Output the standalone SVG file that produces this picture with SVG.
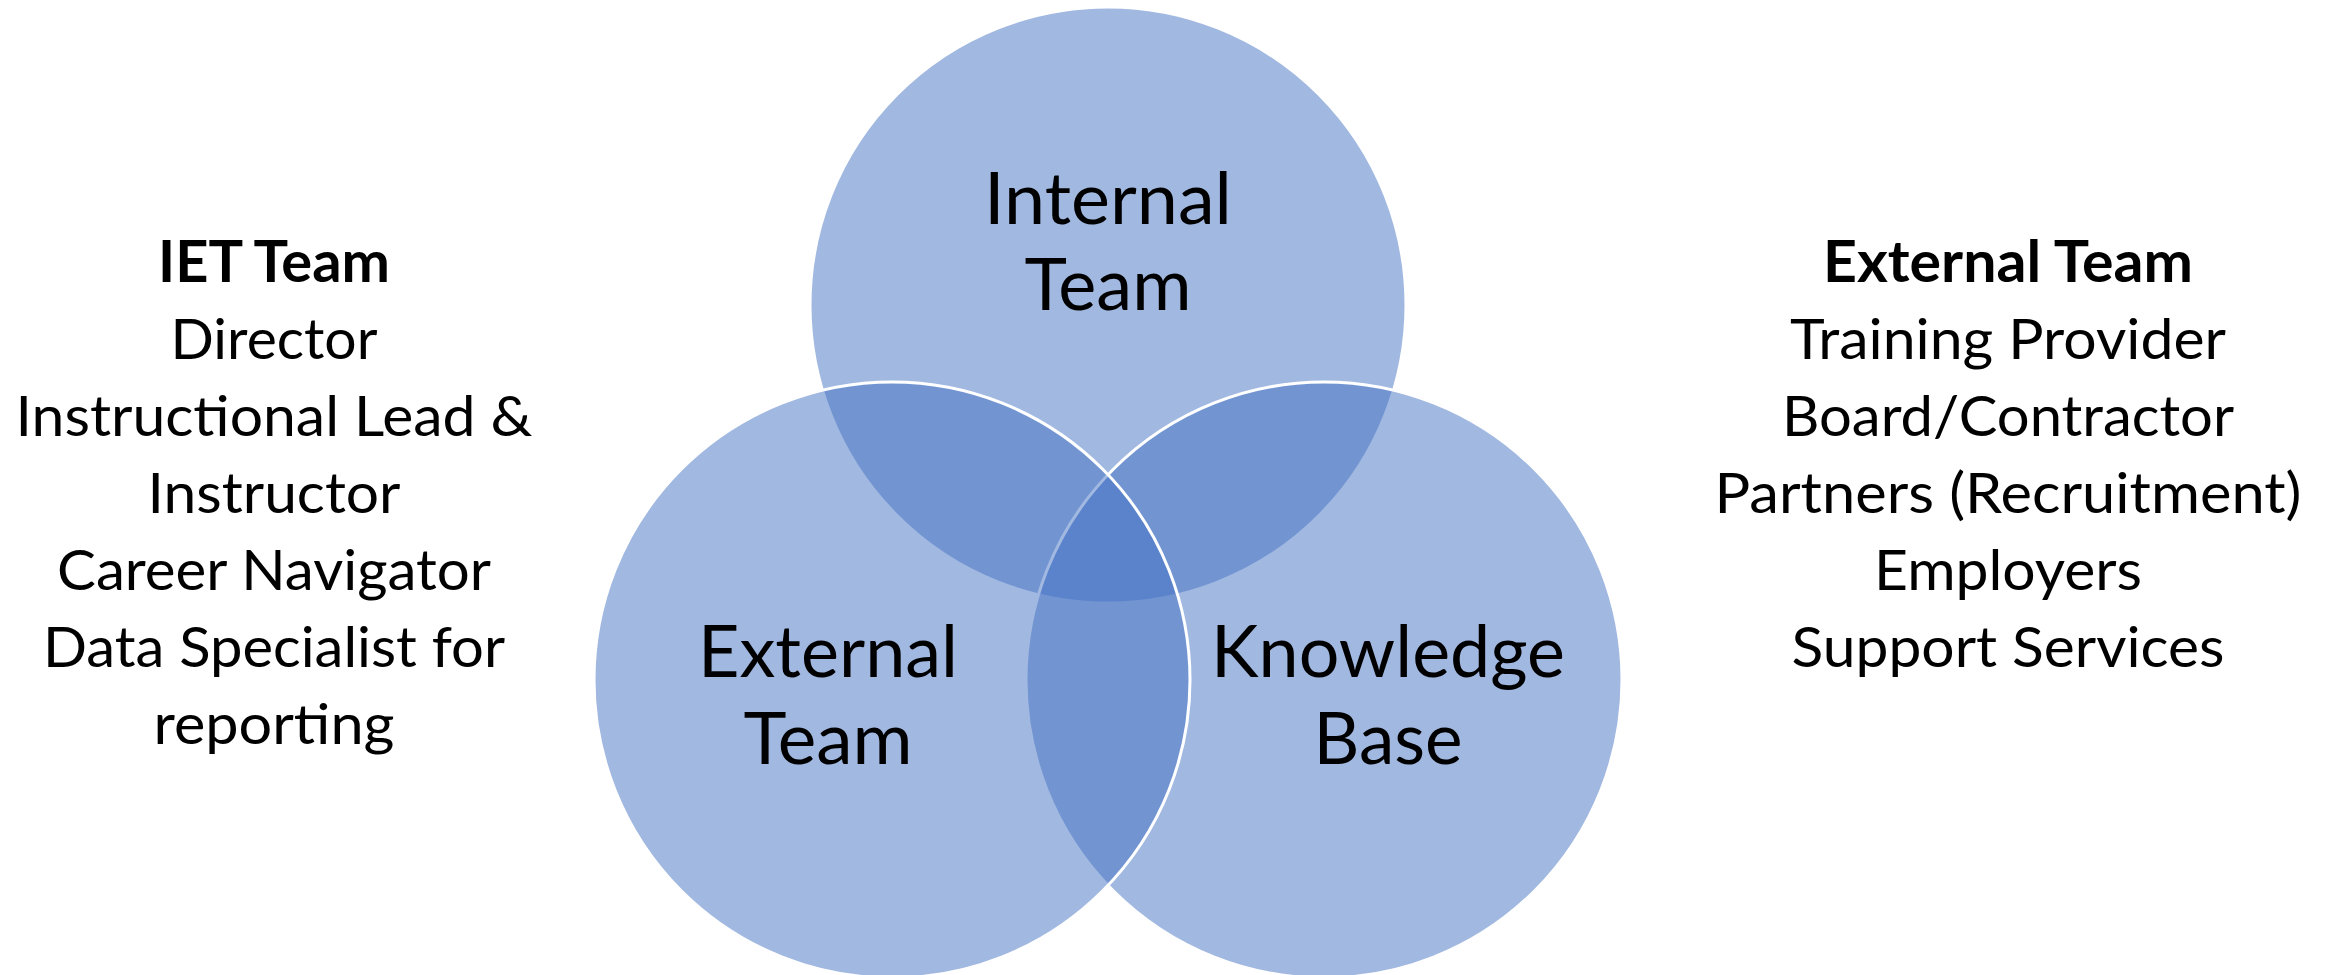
<svg xmlns="http://www.w3.org/2000/svg" width="2331" height="975" viewBox="0 0 2331 975">
<style>
.c{fill:#4472C4;fill-opacity:0.5;stroke:#FFFFFF;stroke-width:3}
.t{font-family:Lato,"Liberation Sans",sans-serif;fill:#000;text-anchor:middle}
.lbl{font-size:72px}
.lst{font-size:57px}
.b{font-weight:bold}
</style>
<rect width="2331" height="975" fill="#FFFFFF"/>
<g id="node-internal">
<circle class="c" cx="1108" cy="305" r="298"/>
</g>
<g id="node-knowledge">
<circle class="c" cx="1324" cy="680" r="298"/>
</g>
<g id="node-external">
<circle class="c" cx="892" cy="680" r="298"/>
</g>
<g id="labels">
<text class="t lbl" x="1108" y="224" textLength="248" lengthAdjust="spacingAndGlyphs">Internal</text>
<text class="t lbl" x="1108" y="310" textLength="167" lengthAdjust="spacingAndGlyphs">Team</text>
<text class="t lbl" x="828" y="677" textLength="260" lengthAdjust="spacingAndGlyphs">External</text>
<text class="t lbl" x="828" y="764" textLength="169" lengthAdjust="spacingAndGlyphs">Team</text>
<text class="t lbl" x="1388" y="677" textLength="354" lengthAdjust="spacingAndGlyphs">Knowledge</text>
<text class="t lbl" x="1388" y="764" textLength="149" lengthAdjust="spacingAndGlyphs">Base</text>
</g>
<g id="iet-team">
<text class="t lst b" x="274" y="282" textLength="232" lengthAdjust="spacingAndGlyphs">IET Team</text>
<text class="t lst" x="274" y="359" textLength="207" lengthAdjust="spacingAndGlyphs">Director</text>
<text class="t lst" x="274" y="436" textLength="517" lengthAdjust="spacingAndGlyphs">Instructional Lead &amp;</text>
<text class="t lst" x="274" y="513" textLength="253" lengthAdjust="spacingAndGlyphs">Instructor</text>
<text class="t lst" x="274" y="590" textLength="434" lengthAdjust="spacingAndGlyphs">Career Navigator</text>
<text class="t lst" x="274" y="667" textLength="462" lengthAdjust="spacingAndGlyphs">Data Specialist for</text>
<text class="t lst" x="274" y="744" textLength="241" lengthAdjust="spacingAndGlyphs">reporting</text>
</g>
<g id="external-team">
<text class="t lst b" x="2008" y="282" textLength="370" lengthAdjust="spacingAndGlyphs">External Team</text>
<text class="t lst" x="2008" y="359" textLength="436" lengthAdjust="spacingAndGlyphs">Training Provider</text>
<text class="t lst" x="2008" y="436" textLength="452" lengthAdjust="spacingAndGlyphs">Board/Contractor</text>
<text class="t lst" x="2008" y="513" textLength="587" lengthAdjust="spacingAndGlyphs">Partners (Recruitment)</text>
<text class="t lst" x="2008" y="590" textLength="268" lengthAdjust="spacingAndGlyphs">Employers</text>
<text class="t lst" x="2008" y="667" textLength="433" lengthAdjust="spacingAndGlyphs">Support Services</text>
</g>
<g id="connectors"></g>
</svg>
